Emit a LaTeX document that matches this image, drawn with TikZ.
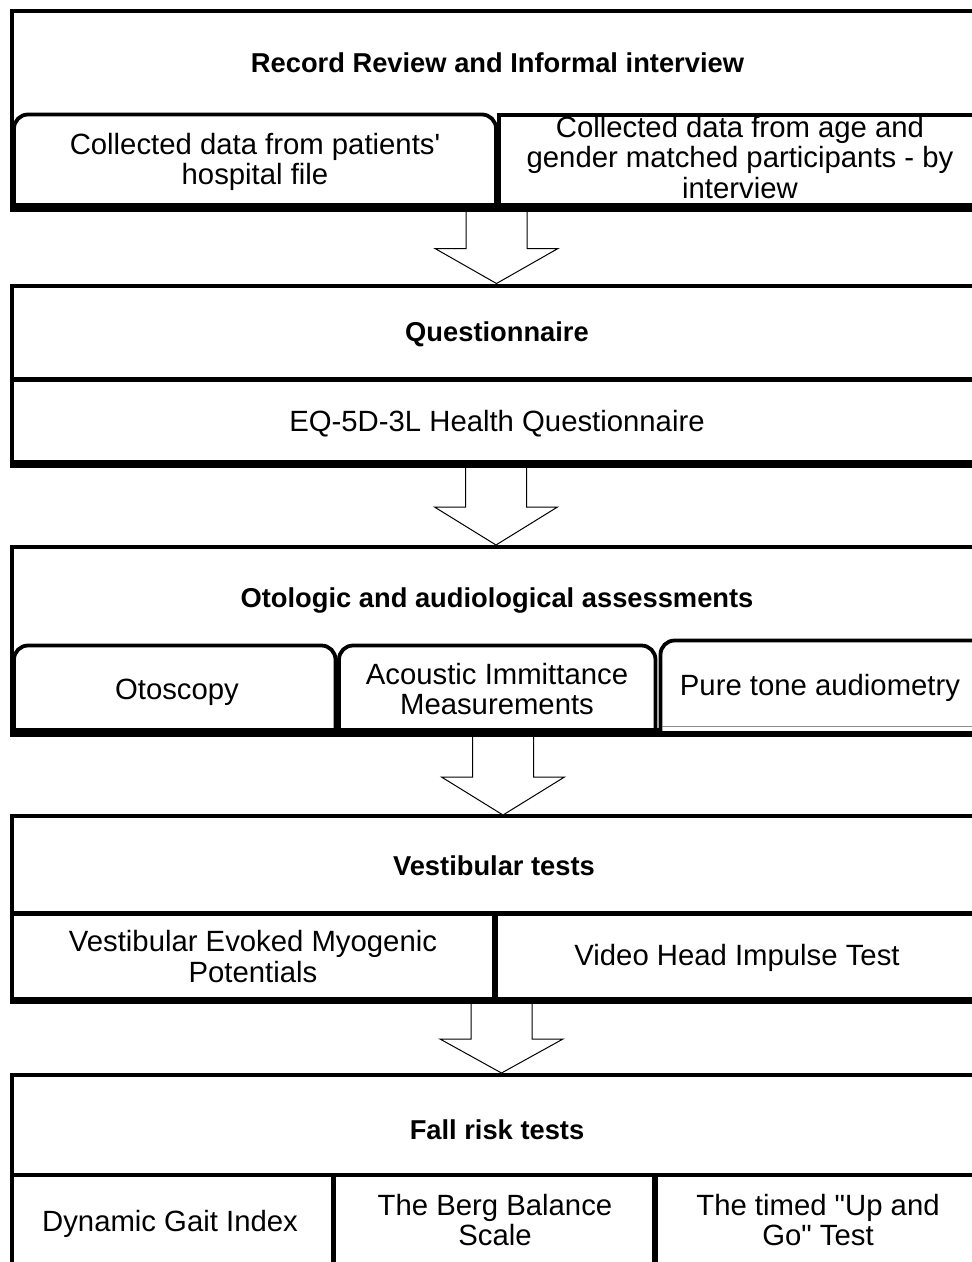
\documentclass[tikz,border=0pt]{standalone}
\usepackage{fontspec}
\newfontfamily\arialf{Liberation Sans}
\usetikzlibrary{calc}
\newcommand\blkarr[3]{\draw[blkarrow] let \p1=(#1),\p2=(#2) in
  (\x1-30.5pt,\y1) -- (\x1-30.5pt,\y2+#3) -- (\x1-61.5pt,\y2+#3) -- (\x1,\y2)
  -- (\x1+61.5pt,\y2+#3) -- (\x1+30.5pt,\y2+#3) -- (\x1+30.5pt,\y1);}
\begin{document}
\begin{tikzpicture}[x=1pt,y=-1pt,
  blk/.style={draw=black,line width=4pt,inner sep=0pt,outer sep=0pt,anchor=north west,minimum width=975pt},
  ttl/.style={font=\arialf\bfseries\fontsize{27.3}{30}\selectfont,text height=19.5pt,text depth=0pt,inner sep=0pt,align=center},
  txt/.style={font=\arialf\fontsize{29.3}{30.2}\selectfont,text height=21pt,text depth=0pt,inner sep=0pt,align=center},
  tabline/.style={draw=black,line width=3.8pt,rounded corners=14pt},
  sqline/.style={draw=black,line width=4pt},
  bar/.style={fill=black},
  blkarrow/.style={draw=black,line width=1pt,fill=white,line join=miter}]
\useasboundingbox (0,0) rectangle (972,1262);
\clip (0,0) rectangle (972,1262);

% multi-line text nodes are positioned by the centre of their last line

% ---------- block 1
\node[blk,minimum height=197pt] (b1) at (12,11) {};
\fill[bar] (10,203) rectangle (990,212);
\draw[tabline] (14,203) -- (14,114.5) -- (496,114.5) -- (496,203);
\draw[sqline] (498.5,203) -- (498.5,114.5) -- (990,114.5);
\node[ttl] (t1) at (497.5,63) {Record Review and Informal interview};
\node[txt] (s11) at (255,174) {Collected data from patients'\\hospital file};
\node[txt] (s12) at (740,187.5) {Collected data from age and\\gender matched participants - by\\interview};

% ---------- block 2
\node[blk,minimum height=178.5pt] (b2) at (12,285.5) {};
\fill[bar] (10,460) rectangle (990,468);
\fill[bar] (10,377) rectangle (990,382);
\node[ttl] (t2) at (497,332) {Questionnaire};
\node[txt] (s21) at (497,421) {EQ-5D-3L Health Questionnaire};

% ---------- block 3
\node[blk,minimum height=186pt] (b3) at (12,547) {};
\fill[bar] (10,728) rectangle (660,737);
\fill[bar] (660,732) rectangle (990,737);
\draw[tabline] (14,728) -- (14,645.5) -- (335.5,645.5) -- (335.5,728);
\draw[tabline] (339,728) -- (339,645.5) -- (655.5,645.5) -- (655.5,728);
\draw[tabline] (660.5,733) -- (660.5,640.5) -- (990,640.5);
\draw[black!45,line width=1pt] (662,726) -- (990,726);
\node[ttl] (t3) at (497,598) {Otologic and audiological assessments};
\node[txt] (s31) at (177,688.5) {Otoscopy};
\node[txt] (s32) at (497,704) {Acoustic Immittance\\Measurements};
\node[txt] (s33) at (820,685) {Pure tone audiometry};

% ---------- block 4
\node[blk,minimum height=184.5pt] (b4) at (12,815.5) {};
\fill[bar] (10,997) rectangle (990,1004);
\fill[bar] (10,911) rectangle (990,916);
\fill[bar] (492,913) rectangle (498,1000);
\node[ttl] (t4) at (494,866) {Vestibular tests};
\node[txt] (s41) at (253,971.5) {Vestibular Evoked Myogenic\\Potentials};
\node[txt] (s42) at (737,955) {Video Head Impulse Test};

% ---------- block 5
\node[blk,minimum height=250pt] (b5) at (12,1075) {};
\fill[bar] (10,1173) rectangle (990,1177);
\fill[bar] (331,1175) rectangle (336,1300);
\fill[bar] (652,1175) rectangle (658,1300);
\node[ttl] (t5) at (497,1130) {Fall risk tests};
\node[txt] (s51) at (170,1220.5) {Dynamic Gait Index};
\node[txt] (s52) at (495,1235) {The Berg Balance\\Scale};
\node[txt] (s53) at (818,1235) {The timed "Up and\\Go" Test};

% ---------- block arrows
\coordinate (a1s) at ($(b1.south)+(-3,4)$);
\coordinate (a1e) at ($(b2.north)+(-3,-2)$);
\coordinate (a2s) at ($(b2.south)+(-3.5,4)$);
\coordinate (a2e) at ($(b3.north)+(-3.5,-2)$);
\coordinate (a3s) at ($(b3.south)+(3.5,4)$);
\coordinate (a3e) at ($(b4.north)+(3.5,-0.5)$);
\coordinate (a4s) at ($(b4.south)+(2,4)$);
\coordinate (a4e) at ($(b5.north)+(2,-2)$);
\blkarr{a1s}{a1e}{35pt}
\blkarr{a2s}{a2e}{38pt}
\blkarr{a3s}{a3e}{38pt}
\blkarr{a4s}{a4e}{34pt}
\end{tikzpicture}
\end{document}
